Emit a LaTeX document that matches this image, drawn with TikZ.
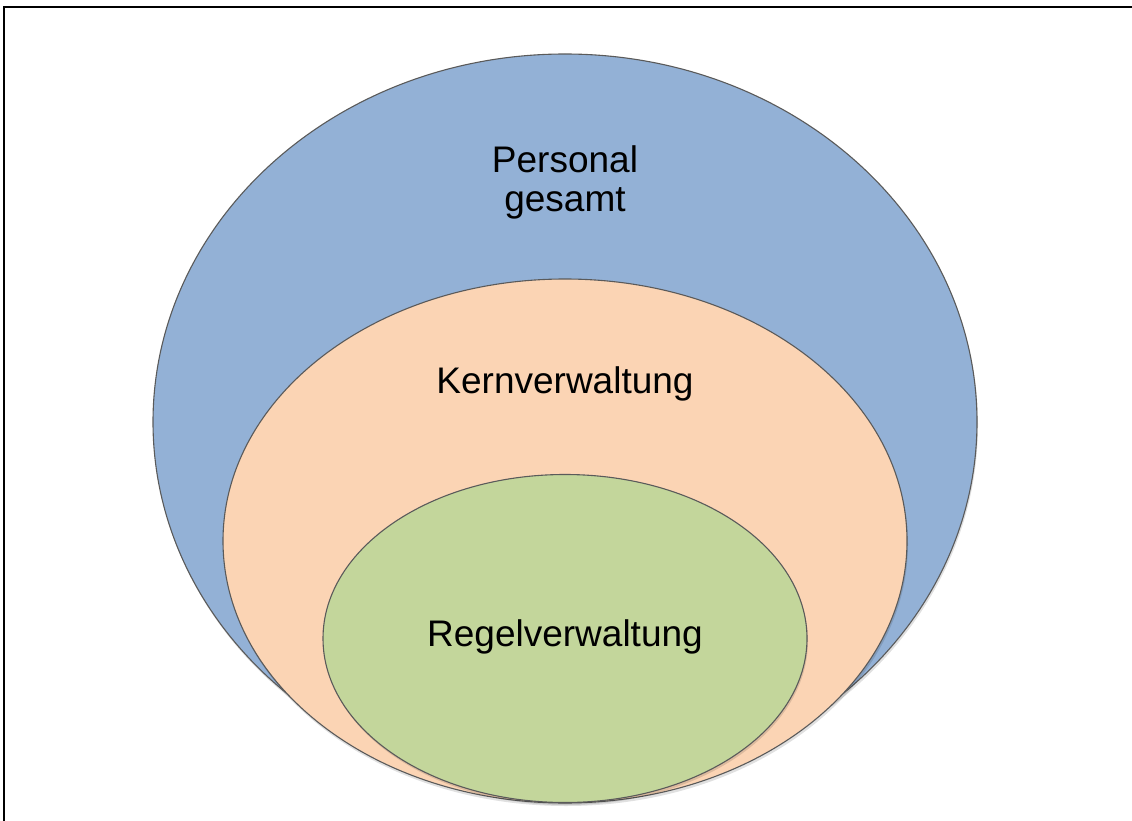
\documentclass[tikz,border=0pt]{standalone}
\usepackage{fontspec}
\setmainfont{Liberation Sans}
\definecolor{gesamtblue}{HTML}{93B1D6}
\definecolor{kernorange}{HTML}{FBD4B4}
\definecolor{regelgreen}{HTML}{C3D69B}
\definecolor{rimgray}{HTML}{5A5A5A}

\begin{document}
\begin{tikzpicture}[x=1pt,y=-1pt]
		\tikzstyle{every node}+=[inner sep=0pt, font=\fontsize{37}{39}\selectfont, align=center]
		\tikzstyle{rim}=[draw=rimgray, line width=1.1pt]
		\tikzstyle{dropshadow}=[fill=black, opacity=0.12]
		\useasboundingbox (0,0) rectangle (1132,821);
		% frame
		\draw [black, line width=2pt] (4,821) -- (4,7) -- (1132,7);
		% outer set
		\fill [dropshadow] (566,425) ellipse (412 and 368);
		\draw [rim, fill=gesamtblue] (565,422) ellipse (412 and 368);
		\draw (565,182) node (personal) {Personal\\gesamt};
		% middle set
		\fill [dropshadow] (566,544) ellipse (342 and 262);
		\draw [rim, fill=kernorange] (565,541) ellipse (342 and 262);
		\draw (565,393) node [anchor=base] (kern) {Kernverwaltung};
		% inner set
		\fill [dropshadow] (566,641) ellipse (242 and 164);
		\draw [rim, fill=regelgreen] (565,638.5) ellipse (242 and 164);
		\draw (565,646) node [anchor=base] (regel) {Regelverwaltung};
\end{tikzpicture}
\end{document}
